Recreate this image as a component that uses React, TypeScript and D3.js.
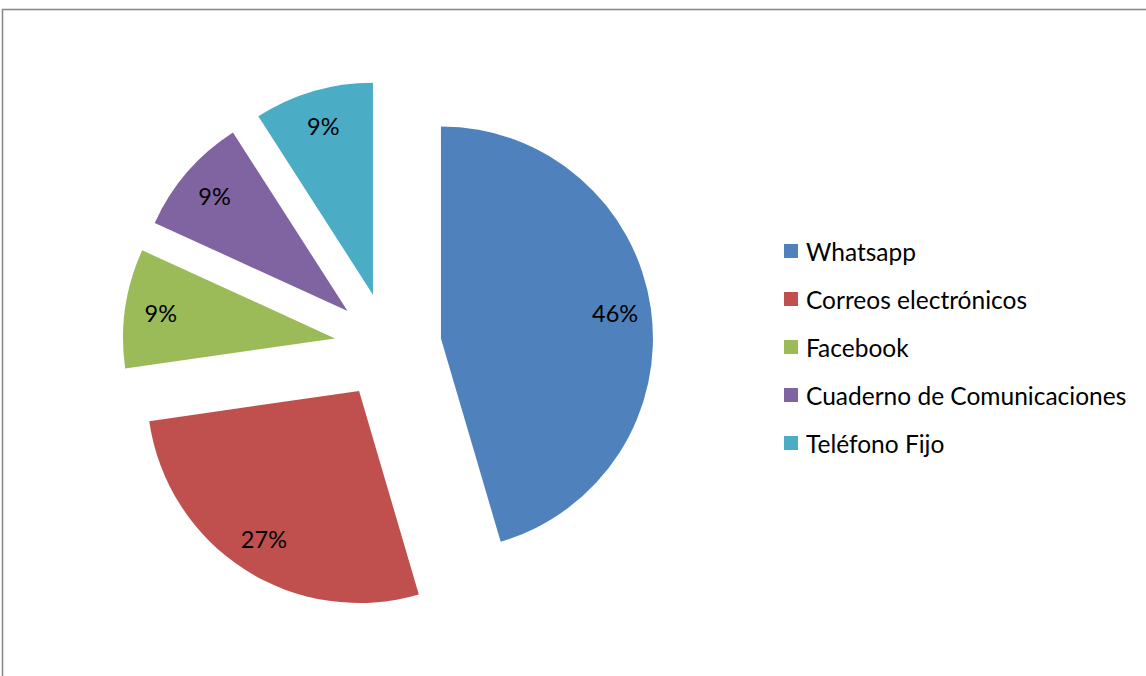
import React from "react";
import * as d3 from "d3";

const categories = ["Whatsapp", "Correos electrónicos", "Facebook", "Cuaderno de Comunicaciones", "Teléfono Fijo"];
const values = [45.5, 27.3, 9.1, 9.1, 9.1];
const colors = ["#4F81BD", "#C0504D", "#9BBB59", "#8064A2", "#4BACC6"];

const W = 1146;
const H = 676;
const cx = 388;
const cy = 346;
const R = 212;
const explode = 53.5;
const labelR = 176;
const FONT = "Lato, 'Open Sans', sans-serif";

export default function App() {
  const pie = d3.pie<number>().sort(null).value((d) => d).startAngle(0).endAngle(2 * Math.PI);
  const arcs = pie(values);
  const arc = d3.arc<d3.PieArcDatum<number>>().innerRadius(0).outerRadius(R);
  const legendY = d3.scalePoint<string>().domain(categories).range([251, 443]);

  return (
    <svg width={W} height={H} style={{ position: "absolute", left: 0, top: 0, background: "#fff" }}>
      <rect x={2.5} y={9.5} width={W + 20} height={H + 20} fill="#fff" stroke="#868686" strokeWidth={1.5} />
      {arcs.map((a, i) => {
        const mid = (a.startAngle + a.endAngle) / 2;
        const ux = Math.sin(mid);
        const uy = -Math.cos(mid);
        const tx = cx + explode * ux;
        const ty = cy + explode * uy;
        return (
          <g key={i} transform={`translate(${tx},${ty})`}>
            <path d={arc(a) || ""} fill={colors[i]} />
            <text
              x={labelR * ux}
              y={labelR * uy}
              textAnchor="middle"
              dominantBaseline="central"
              fontFamily={FONT}
              fontSize={23.5}
              fill="#000"
            >
              {Math.round(values[i])}%
            </text>
          </g>
        );
      })}
      {categories.map((c, i) => {
        const y = legendY(c) as number;
        return (
          <g key={c}>
            <rect x={784} y={y - 7} width={14} height={14} fill={colors[i]} />
            <text x={806} y={y} dominantBaseline="central" fontFamily={FONT} fontSize={24.5} fill="#000">
              {c}
            </text>
          </g>
        );
      })}
    </svg>
  );
}
